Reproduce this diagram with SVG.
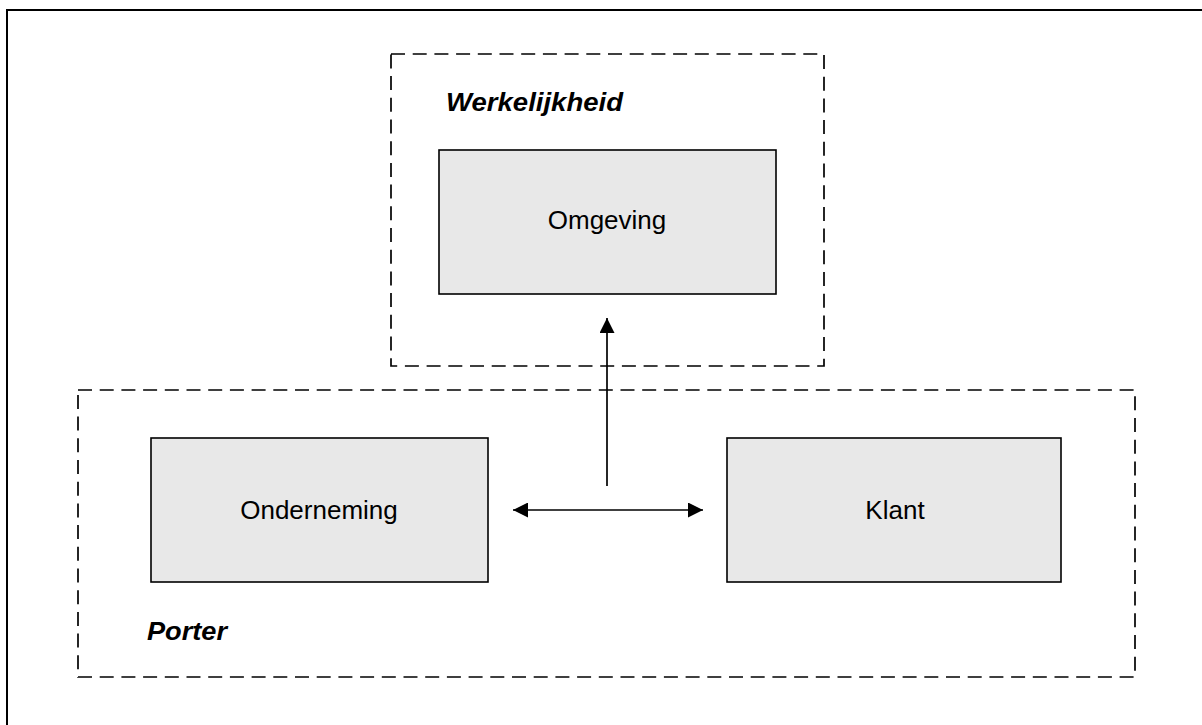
<svg xmlns="http://www.w3.org/2000/svg" width="1202" height="725" viewBox="0 0 1202 725">
<style>
.frame{fill:none;stroke:#000;stroke-width:2}
.group{fill:none;stroke:#000;stroke-width:1.7;stroke-dasharray:14 7.7}
.box{fill:#e8e8e8;stroke:#000;stroke-width:1.6}
.lbl{font-family:"Liberation Sans",Arial,sans-serif;font-size:26px;fill:#000;text-anchor:middle}
.title{font-family:"Liberation Sans",Arial,sans-serif;font-size:26px;font-weight:bold;font-style:italic;fill:#000}
.conn{stroke:#000;stroke-width:1.7;fill:none}
</style>
<defs>
<marker id="ah" viewBox="0 0 15 15" refX="15" refY="7.5" markerWidth="15" markerHeight="15" markerUnits="userSpaceOnUse" orient="auto-start-reverse">
<path d="M0,0 L15,7.5 L0,15 Z" fill="#000"/>
</marker>
</defs>
<rect width="1202" height="725" fill="#fff"/>
<rect class="frame" x="7" y="10" width="1220" height="740"/>
<g id="werkelijkheid">
<rect class="group" x="391" y="54" width="433" height="312"/>
<text class="title" x="446" y="111" textLength="177" lengthAdjust="spacingAndGlyphs">Werkelijkheid</text>
</g>
<g id="porter">
<rect class="group" x="78" y="390" width="1057" height="287"/>
<text class="title" x="147" y="640" textLength="80" lengthAdjust="spacingAndGlyphs">Porter</text>
</g>
<g id="omgeving">
<rect class="box" x="439" y="150" width="337" height="144"/>
<text class="lbl" x="607" y="229">Omgeving</text>
</g>
<g id="onderneming">
<rect class="box" x="151" y="438" width="337" height="144"/>
<text class="lbl" x="319" y="519">Onderneming</text>
</g>
<g id="klant">
<rect class="box" x="727" y="438" width="334" height="144"/>
<text class="lbl" x="895" y="519">Klant</text>
</g>
<g id="connectors">
<line class="conn" x1="607" y1="486" x2="607" y2="318" marker-end="url(#ah)"/>
<line class="conn" x1="513" y1="510" x2="703" y2="510" marker-start="url(#ah)" marker-end="url(#ah)"/>
</g>
</svg>
